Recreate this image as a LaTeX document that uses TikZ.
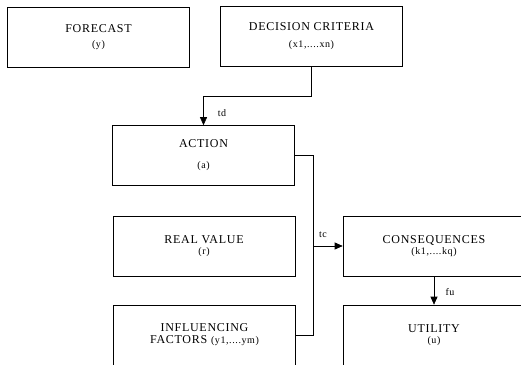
\documentclass[tikz,border=0pt]{standalone}
\usepackage{fontspec}
\setmainfont{Liberation Serif}[LetterSpace=6]
\usepackage{tikz}
\usetikzlibrary{arrows.meta, positioning, calc}
\newcommand{\sub}[1]{{\fontsize{10}{12}\selectfont #1}}

\begin{document}
\begin{tikzpicture}[
  x=1pt, y=-1pt,
  box/.style={draw, line width=0.6pt, align=center, minimum width=182pt,
              minimum height=60pt, inner sep=2pt, font=\fontsize{12}{14}\selectfont},
  tag/.style={font=\fontsize{10}{11}\selectfont, inner sep=1pt},
  >={Triangle[length=8pt, width=7pt]}]
\useasboundingbox (0,0) rectangle (521,364);
\clip (0,0) rectangle (521,364);
\node[box] (Fc) at (98.5,37)   {FORECAST\\[1pt] \sub{(y)}};
\node[box] (Dc) at (311.5,36)  {DECISION CRITERIA\\[3pt] \sub{(x1,....xn)}};
\node[box] (Ac) at (203.5,155.5) {ACTION\\[7pt] \sub{(a)}};
\node[box] (Rv) at (204,246.5) {REAL VALUE\\[-3pt] \sub{(r)}};
\node[box] (If) at (204.5,335) {INFLUENCING\\[-2pt] FACTORS \sub{(y1,....ym)}};
\node[box] (Cq) at (434,246)   {CONSEQUENCES\\[-3pt] \sub{(k1,....kq)}};
\node[box] (Ut) at (434,335)   {UTILITY\\[-3pt] \sub{(u)}};
% connectors
\coordinate (dcj) at (Dc.south |- 0,96);
\coordinate (bus) at (313,246);
\draw[line width=0.6pt, ->] (Dc.south) -- (dcj) -| (Ac.north);
\draw[line width=0.6pt] (Ac.east) -| (bus);
\draw[line width=0.6pt] (If.east) -| (bus);
\draw[line width=0.6pt, ->] (bus) -- (Cq.west);
\draw[line width=0.6pt, ->] (Cq.south) -- (Ut.north);
\node[tag] (td) at (222,113) {td};
\node[tag] (tc) at (323,235) {tc};
\node[tag] (fu) at (450,292) {fu};
\end{tikzpicture}
\end{document}
